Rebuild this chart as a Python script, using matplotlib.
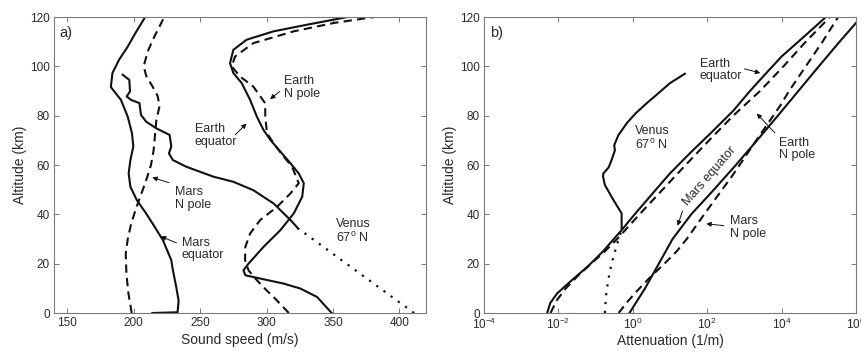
import matplotlib
matplotlib.use("Agg")
import matplotlib.pyplot as plt
import numpy as np

plt.rcParams["font.family"] = ["Liberation Sans", "DejaVu Sans"]
plt.rcParams["mathtext.fontset"] = "custom"
plt.rcParams["mathtext.rm"] = "Liberation Sans"
plt.rcParams["mathtext.it"] = "Liberation Sans"

INK = "#111111"
TXT = "#2a2a2a"
GRID = "#7a7a7a"

# ---- panel a: sound speed (m/s) vs altitude (km) ----
mars_eq_alt = [0, 0.3, 5, 10.6, 17.3, 21.4, 29.5, 35, 40.4, 45.8, 51.2, 56.6, 62, 67.5,
               72.9, 79.6, 86.4, 91.6, 97.3, 102.7, 108, 113.5, 120]
mars_eq_c = [214, 233, 233.8, 232, 229.5, 228.3, 222, 215.7, 209.3, 202.3, 197.5, 196.2,
             197.5, 199.7, 198.7, 195.5, 190.4, 182.8, 184, 189, 195.5, 201.3, 208.6]

mars_np_alt = [0, 8, 16, 24, 30, 36, 42, 48, 54, 60, 66, 72, 78, 84, 88, 92, 96, 100,
               106, 112, 120]
mars_np_c = [198.5, 196, 194.5, 194, 195.5, 198, 201.5, 205.5, 209.5, 213, 215, 216,
             217, 219.5, 218, 214, 209.5, 207.5, 210.5, 215.5, 223]

venus_alt = [34.3, 37.7, 44.4, 49.8, 53.2, 55.3, 59.3, 62, 64.7, 67.5, 72.2, 74.9,
             77.6, 80.3, 85.1, 86.4, 87.8, 89.8, 94.5, 96.6]
venus_c = [323.7, 318, 305.3, 290, 275, 259.8, 239.6, 229.5, 226.5, 228.3, 227, 216.9,
           209.3, 205.5, 204.3, 198, 194.7, 197.2, 196.7, 191.7]
venus_low_alt = [0, 34.3]
venus_low_c = [411, 323.7]

earth_eq_alt = [0, 6.5, 9.9, 11.9, 14, 15.3, 17.3, 20, 26.8, 33.6, 40.4, 47.1, 52.6,
                56.6, 60.7, 65.4, 70.2, 74.2, 79.6, 86.4, 93.2, 97.3, 101.3, 106.7,
                110.8, 114.2, 116.9, 120]
earth_eq_c = [349, 338, 325.5, 313, 295, 284, 282.6, 286.4, 297.7, 310.4, 320.5, 326.8,
              328, 324.2, 318, 310.4, 302.8, 297.7, 292.7, 287.6, 281.3, 275, 272.5,
              275, 285, 305.3, 330.6, 360.9]

earth_np_alt = [0, 5.1, 9.2, 13.3, 17.3, 21.4, 26.8, 32.2, 37.7, 43, 48.5, 52.6, 59.3,
                63.4, 68.8, 72.9, 79.6, 85, 91.8, 95.9, 100, 104, 109.4, 114.2, 117.6, 120]
earth_np_c = [316.7, 307.8, 300, 292.7, 286.4, 283.8, 284, 287.6, 295.2, 307.8, 318,
              324.2, 319.2, 312.9, 305.3, 300.3, 299, 299, 290, 280, 273.7, 276.3, 290,
              320.5, 350.8, 381]

# ---- panel b: attenuation, log10(1/m) vs altitude (km) ----
b_earth_eq_alt = [0, 4, 8, 13, 19, 25, 33.6, 40, 50, 56.6, 65, 73, 82, 90, 96, 104, 112, 120]
b_earth_eq_log = [-2.30, -2.22, -2.03, -1.66, -1.2, -0.8, -0.30, 0.05, 0.62, 1.0, 1.55,
                  2.1, 2.7, 3.15, 3.51, 4.0, 4.6, 5.19]

b_earth_np_alt = [0, 5, 10, 15, 20, 25, 30, 35, 40, 50, 60, 70, 80, 90, 100, 110, 120]
b_earth_np_log = [-2.21, -2.05, -1.8, -1.48, -1.12, -0.75, -0.42, -0.12, 0.18, 0.8, 1.42,
                  2.05, 2.7, 3.42, 4.05, 4.65, 5.30]

b_mars_eq_alt = [0, 10, 20, 30, 40, 50, 60, 70, 80, 90, 100, 110, 117.6]
b_mars_eq_log = [-0.09, 0.33, 0.70, 1.07, 1.57, 2.18, 2.77, 3.34, 3.90, 4.45, 5.0, 5.56, 6.0]

b_mars_np_alt = [0, 5, 10, 15, 20, 25, 30, 40, 50, 55.3, 60, 70, 84, 90, 100, 110, 120]
b_mars_np_log = [-0.38, -0.12, 0.18, 0.5, 0.85, 1.18, 1.45, 1.92, 2.40, 2.66, 2.87, 3.32,
                 3.96, 4.2, 4.65, 5.1, 5.52]

b_venus_alt = [34.3, 40.4, 45.8, 51.9, 55.3, 56.6, 59, 62, 66, 68, 72, 77, 81, 85, 89, 93.2, 97]
b_venus_log = [-0.30, -0.30, -0.52, -0.75, -0.80, -0.79, -0.65, -0.57, -0.48, -0.50, -0.39,
               -0.16, 0.08, 0.37, 0.68, 1.0, 1.40]
b_venus_low_alt = [0, 7, 13.3, 18, 22.8, 28, 33.6]
b_venus_low_log = [-0.75, -0.72, -0.66, -0.6, -0.52, -0.42, -0.30]

SOLID = dict(color=INK, lw=1.5, ls="-")
DASH = dict(color=INK, lw=1.5, ls=(0, (4, 2.5)))
DOT = dict(color=INK, lw=1.6, ls=(0, (1, 3)))
ARROW = dict(arrowstyle="-|>", color=INK, lw=0.7, mutation_scale=7)
VENUS = "Venus\n67$^{\\mathrm{o}}$ N"


def style_axes(ax):
    for s in ax.spines.values():
        s.set_color(GRID)
        s.set_linewidth(0.8)
    ax.tick_params(direction="in", top=True, right=True, length=3.5, width=0.7,
                   color=GRID, labelsize=8.5, labelcolor=TXT, pad=3)
    ax.tick_params(which="minor", length=0)
    ax.set_ylim(0, 120)
    ax.set_yticks(np.arange(0, 121, 20))
    ax.set_ylabel("Altitude (km)", fontsize=10, color=TXT, labelpad=2)


def label(ax, x, y, text, **kw):
    ax.text(x, y, text, fontsize=9, color=TXT, va="center", linespacing=1.05, **kw)


fig = plt.figure(figsize=(8.61, 3.53), dpi=100)
ax_a = fig.add_axes([0.0627, 0.1133, 0.4321, 0.8385])
ax_b = fig.add_axes([0.5621, 0.1133, 0.4321, 0.8385])

# panel a
ax_a.plot(mars_eq_c, mars_eq_alt, **SOLID)
ax_a.plot(mars_np_c, mars_np_alt, **DASH)
ax_a.plot(venus_c, venus_alt, **SOLID)
ax_a.plot(venus_low_c, venus_low_alt, **DOT)
ax_a.plot(earth_eq_c, earth_eq_alt, **SOLID)
ax_a.plot(earth_np_c, earth_np_alt, **DASH)
style_axes(ax_a)
ax_a.set_xlim(140, 420)
ax_a.set_xticks(np.arange(150, 401, 50))
ax_a.set_xlabel("Sound speed (m/s)", fontsize=10, color=TXT, labelpad=3)
ax_a.text(0.015, 0.945, "a)", transform=ax_a.transAxes, fontsize=10.5, color=TXT,
          ha="left", va="center")

ax_a.annotate("", xy=(301, 86), xytext=(311.5, 90.5), arrowprops=ARROW)
label(ax_a, 313, 91.5, "Earth\nN pole")
ax_a.annotate("", xy=(286.4, 77.6), xytext=(275, 71.5), arrowprops=ARROW)
label(ax_a, 246, 72, "Earth\nequator")
ax_a.annotate("", xy=(212, 55.3), xytext=(228.5, 52.5), arrowprops=ARROW)
label(ax_a, 231, 46.5, "Mars\nN pole")
ax_a.annotate("", xy=(218.5, 31.5), xytext=(234, 28), arrowprops=ARROW)
label(ax_a, 236, 26, "Mars\nequator")
label(ax_a, 352, 33, VENUS)

# panel b
ax_b.plot(10 ** np.array(b_earth_eq_log), b_earth_eq_alt, **SOLID)
ax_b.plot(10 ** np.array(b_earth_np_log), b_earth_np_alt, **DASH)
ax_b.plot(10 ** np.array(b_mars_eq_log), b_mars_eq_alt, **SOLID)
ax_b.plot(10 ** np.array(b_mars_np_log), b_mars_np_alt, **DASH)
ax_b.plot(10 ** np.array(b_venus_log), b_venus_alt, **SOLID)
ax_b.plot(10 ** np.array(b_venus_low_log), b_venus_low_alt, **DOT)
ax_b.set_xscale("log")
style_axes(ax_b)
ax_b.set_xlim(1e-4, 1e6)
ax_b.set_xticks([1e-4, 1e-2, 1e0, 1e2, 1e4, 1e6])
ax_b.set_xlabel("Attenuation (1/m)", fontsize=10, color=TXT, labelpad=1)
ax_b.text(0.015, 0.945, "b)", transform=ax_b.transAxes, fontsize=10.5, color=TXT,
          ha="left", va="center")

ax_b.annotate("", xy=(10 ** 3.5, 97), xytext=(10 ** 2.93, 99.3), arrowprops=ARROW)
label(ax_b, 10 ** 1.8, 98.6, "Earth\nequator")
ax_b.annotate("", xy=(10 ** 3.28, 81.7), xytext=(10 ** 3.87, 72.2), arrowprops=ARROW)
label(ax_b, 10 ** 3.92, 66.5, "Earth\nN pole")
ax_b.annotate("", xy=(10 ** 1.18, 34.3), xytext=(10 ** 1.36, 42.4), arrowprops=ARROW)
ax_b.text(10 ** 2.06, 55.3, "Mars equator", fontsize=9, color=TXT, va="center",
          ha="center", rotation=49, rotation_mode="anchor")
ax_b.annotate("", xy=(10 ** 1.9, 36.3), xytext=(10 ** 2.52, 35.3), arrowprops=ARROW)
label(ax_b, 10 ** 2.6, 34.7, "Mars\nN pole")
label(ax_b, 10 ** 0.05, 70.8, VENUS)

fig.savefig("out.png", dpi=100)
